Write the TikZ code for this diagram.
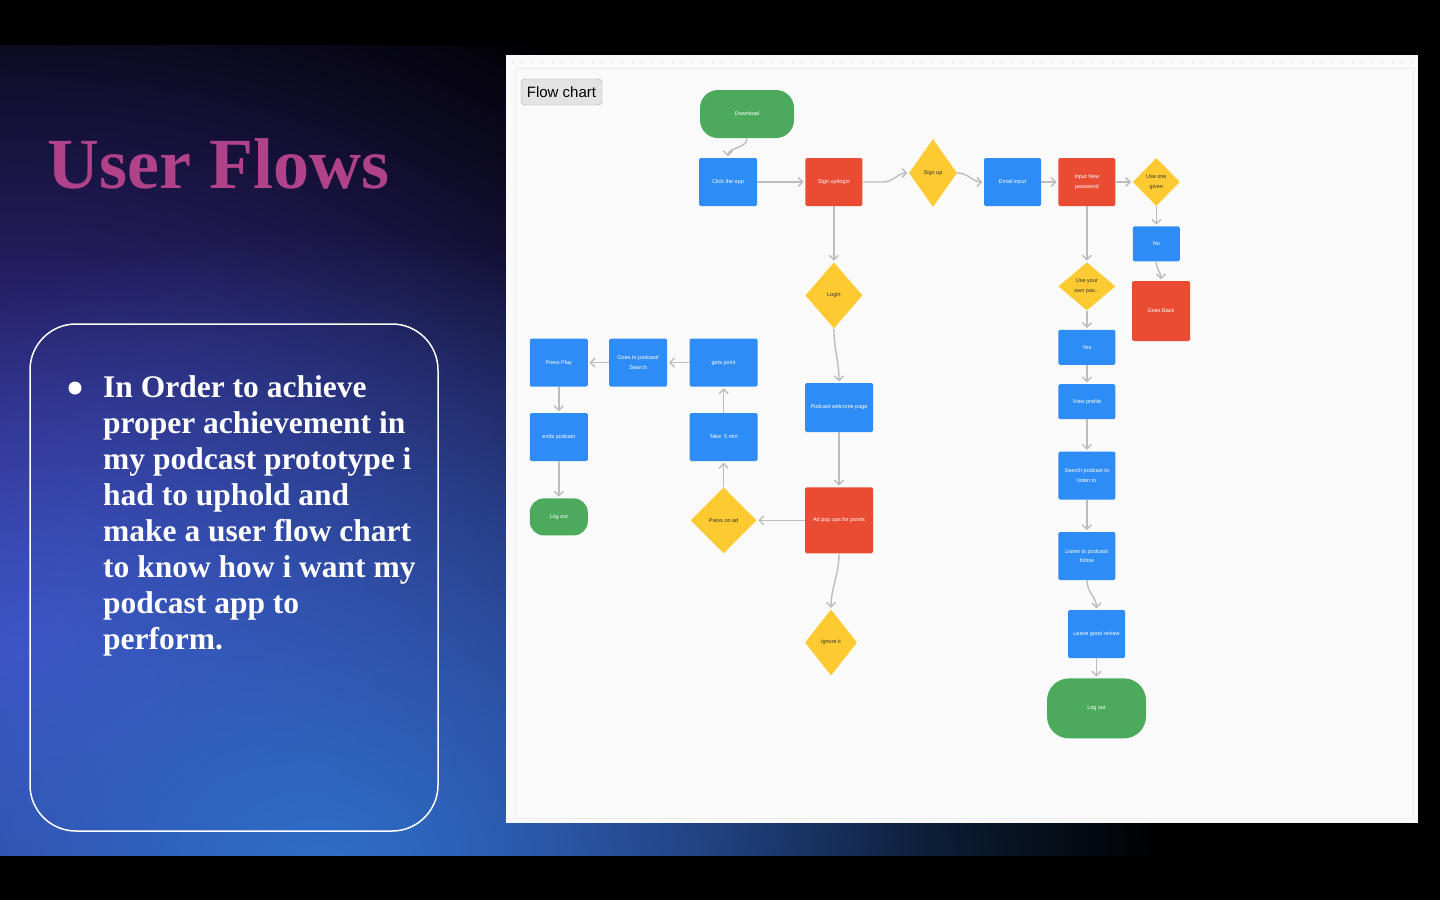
\documentclass[tikz,border=0pt]{standalone}
\usepackage{fontspec}
\setmainfont{Liberation Serif}
\newfontfamily\chartfont{Liberation Sans}
\usetikzlibrary{shapes.geometric, arrows.meta, positioning, fadings}
\definecolor{GlowPurple}{HTML}{4B3DC4}
\definecolor{GlowBlue}{HTML}{2F6FC9}
\definecolor{TitlePink}{HTML}{B0428A}
\definecolor{CanvasGrey}{HTML}{FAFAFA}
\definecolor{StepBlue}{HTML}{2E8CF7}
\definecolor{StepRed}{HTML}{EA4B33}
\definecolor{StepGreen}{HTML}{4CAA5C}
\definecolor{StepYellow}{HTML}{FDCB31}
\definecolor{LinkGrey}{HTML}{BDBDBD}
\tikzfading[name=glow, inner color=transparent!0, outer color=transparent!100]

\begin{document}
\begin{tikzpicture}[x=1pt, y=-1pt, >={Straight Barb[length=4.5pt,width=9pt]}, font=\chartfont\fontsize{5.5}{9.5}\selectfont]
    \tikzstyle{process} = [rectangle, fill=StepBlue, text=white, align=center, inner sep=1pt, minimum width=58pt, minimum height=48pt, rounded corners=1.5pt]
    \tikzstyle{alert} = [process, fill=StepRed]
    \tikzstyle{decision} = [diamond, fill=StepYellow, text=black!80, align=center, inner sep=0pt]
    \tikzstyle{terminal} = [rectangle, fill=StepGreen, text=white, align=center, rounded corners=18pt, minimum width=94pt, minimum height=48pt]
    \tikzstyle{line} = [draw=LinkGrey, line width=1.4pt, ->, shorten >=1.5pt]

    % slide background
    \fill [black] (0,0) rectangle (1440,900);
    \begin{scope}
        \clip (0,45) rectangle (1440,855);
        \fill [GlowPurple, path fading=glow] (20,650) ellipse (940 and 740);
        \fill [GlowBlue, path fading=glow] (320,870) ellipse (840 and 640);
    \end{scope}

    % left column
    \node [anchor=base west, text=TitlePink, font=\fontsize{72}{80}\selectfont\bfseries] (title) at (44,188) {User Flows};
    \draw [white, line width=1.5pt, rounded corners=46pt] (30,324) rectangle (438,831);
    \fill [white] (75,388) circle (6.5);
    \node [anchor=base west, align=left, text=white, inner sep=0pt, font=\fontsize{31.5}{36}\selectfont\bfseries] (note) at (103,649)
        {In Order to achieve\\proper achievement in\\my podcast prototype i\\had to uphold and\\make a user flow chart\\to know how i want my\\podcast app to\\perform.};

    % canvas
    \fill [CanvasGrey] (506,55) rectangle (1418,823);
    \draw [black!8, line width=0.8pt] (515,68) rectangle (1413,818);
    \draw [black!25, line width=1pt, dash pattern=on 1pt off 9pt] (512,62) -- (1414,62);
    \node [draw=black!35, fill=black!11, rounded corners=4pt, minimum width=81pt, minimum height=26pt, text=black, font=\chartfont\fontsize{15}{18}\selectfont] (tag) at (561.5,92) {Flow chart};

    % sign up branch
    \node [terminal] (download) at (747,114) {Download};
    \node [process] (clickapp) at (728,182) {Click the app};
    \node [alert, right=48pt of clickapp, minimum width=57pt] (signlogin) {Sign up/login};
    \node [decision, minimum width=48pt, minimum height=68pt] (signup) at (933,173) {Sign up};
    \node [process, minimum width=57pt] (email) at (1012.5,182) {Email input};
    \node [alert, right=17pt of email, minimum width=57pt] (newpass) {Input New\\password};
    \node [decision, right=17pt of newpass, minimum width=47pt, minimum height=48pt] (onegiven) {Use one\\given};
    \node [process, below=20pt of onegiven, minimum width=47pt, minimum height=35pt] (no) {No};
    \node [alert, minimum width=58pt, minimum height=60pt] (goesback) at (1161,311) {Goes Back};
    \node [decision, below=56pt of newpass, minimum width=57pt, minimum height=48pt] (ownpass) {Use your\\own pas...};
    \node [process, below=19pt of ownpass, minimum width=57pt, minimum height=35pt] (yes) {Yes};
    \node [process, below=19pt of yes, minimum width=57pt, minimum height=35pt] (viewprofile) {View profile};
    \node [process, below=32pt of viewprofile, minimum width=57pt] (search) {Search podcast to\\listen to};
    \node [process, below=32pt of search, minimum width=57pt] (listen) {Listen to podcast/\\follow};
    \node [process, minimum width=57pt] (review) at (1096.5,634) {Leave good review};
    \node [terminal, below=20pt of review, minimum width=99pt, minimum height=60pt, rounded corners=22pt] (logoutright) {Log out};

    % login branch
    \node [decision, below=56pt of signlogin, minimum width=57pt, minimum height=66pt] (login) {Login};
    \node [process, minimum width=68pt, minimum height=49pt] (welcome) at (839,407.5) {Podcast welcome page};
    \node [alert, below=55pt of welcome, minimum width=68pt, minimum height=66pt] (adpopup) {Ad pop ups for points};
    \node [decision, minimum width=52pt, minimum height=66pt] (ignore) at (831,642.5) {Ignore it};
    \node [decision, left=48pt of adpopup, minimum width=66pt, minimum height=66pt] (pressad) {Press on ad};
    \node [process, above=26pt of pressad, minimum width=68pt] (takefive) {Take\ \ 5 min};
    \node [process, above=26pt of takefive, minimum width=68pt] (getspoint) {gets point};
    \node [process, left=22pt of getspoint] (goesto) {Goes to podcast/\\Search};
    \node [process, left=21pt of goesto] (pressplay) {Press Play};
    \node [process, below=26pt of pressplay] (endspod) {ends podcast};
    \node [terminal, below=37pt of endspod, minimum width=58pt, minimum height=37pt, rounded corners=14pt] (logoutleft) {Log out};

    \path [line] (download) to[out=-90, in=90] (clickapp);
    \path [line] (clickapp) -- (signlogin);
    \path [line] (signlogin.east) -- ++(20,0) to[out=0, in=180] (signup.west);
    \path [line] (signup.east) to[out=0, in=180] (email.west);
    \path [line] (email) -- (newpass);
    \path [line] (newpass) -- (onegiven);
    \path [line] (onegiven) -- (no);
    \path [line] (no) to[out=-90, in=90] (goesback);
    \path [line] (newpass) -- (ownpass);
    \path [line] (ownpass) -- (yes);
    \path [line] (yes) -- (viewprofile);
    \path [line] (viewprofile) -- (search);
    \path [line] (search) -- (listen);
    \path [line] (listen) to[out=-90, in=90] (review);
    \path [line] (review) -- (logoutright);
    \path [line] (signlogin) -- (login);
    \path [line] (login) to[out=-90, in=90] (welcome);
    \path [line] (welcome) -- (adpopup);
    \path [line] (adpopup) -- (pressad);
    \path [line] (adpopup) to[out=-90, in=90] (ignore);
    \path [line] (pressad) -- (takefive);
    \path [line] (takefive) -- (getspoint);
    \path [line] (getspoint) -- (goesto);
    \path [line] (goesto) -- (pressplay);
    \path [line] (pressplay) -- (endspod);
    \path [line] (endspod) -- (logoutleft);
\end{tikzpicture}
\end{document}
